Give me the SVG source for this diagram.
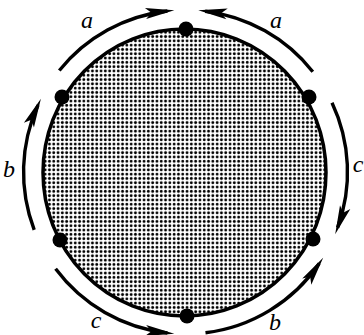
<svg xmlns="http://www.w3.org/2000/svg" width="364" height="335" viewBox="0 0 364 335">
  <defs>
    <pattern id="dots" patternUnits="userSpaceOnUse" width="4.3" height="4.3">
      <circle cx="2.15" cy="2.15" r="1.4" fill="#000"/>
    </pattern>
    <marker id="arr" markerUnits="userSpaceOnUse" orient="auto" markerWidth="40" markerHeight="20" refX="0" refY="0" viewBox="-25 -10 40 20" overflow="visible">
      <path d="M7,0 L-22,-5.5 L-16,0 L-22,5.5 Z" fill="#000"/>
    </marker>
  </defs>
  <style>
    .arc { fill: none; stroke: #000; stroke-width: 3.4; marker-end: url(#arr); }
    .node { fill: #000; }
    .lbl { font-family: "Liberation Serif", "DejaVu Serif", serif; font-style: italic; font-size: 24px; fill: #000; text-anchor: middle; }
  </style>
  <rect width="364" height="335" fill="#fff"/>
  <g id="disk">
    <ellipse cx="184.5" cy="172.5" rx="141.5" ry="143.5" fill="url(#dots)" stroke="#000" stroke-width="3.5"/>
  </g>
  <g id="connectors">
    <path class="arc" d="M59.3,70.5 A162,162 0 0 1 167.4,11"/>
    <path class="arc" d="M312.8,71.8 A162,162 0 0 0 205.2,11.2"/>
    <path class="arc" d="M332,102.8 A162,162 0 0 1 337.6,227.7"/>
    <path class="arc" d="M205.5,332.8 A162,162 0 0 0 319.2,263.5"/>
    <path class="arc" d="M55.6,268.8 A162,162 0 0 0 167.4,333"/>
    <path class="arc" d="M34.2,229.8 A162,162 0 0 1 38,105.1"/>
  </g>
  <g id="n-top"><circle class="node" cx="186" cy="29" r="7.5"/></g>
  <g id="n-upper-left"><circle class="node" cx="62" cy="97" r="7.5"/></g>
  <g id="n-upper-right"><circle class="node" cx="309" cy="97" r="7.5"/></g>
  <g id="n-lower-left"><circle class="node" cx="60" cy="240" r="7.5"/></g>
  <g id="n-lower-right"><circle class="node" cx="313" cy="239" r="7.5"/></g>
  <g id="n-bottom"><circle class="node" cx="187" cy="316" r="7.5"/></g>
  <g id="labels">
    <text class="lbl" x="87" y="28">a</text>
    <text class="lbl" x="276" y="28">a</text>
    <text class="lbl" x="9" y="177">b</text>
    <text class="lbl" x="358" y="172">c</text>
    <text class="lbl" x="96" y="328">c</text>
    <text class="lbl" x="275" y="330">b</text>
  </g>
</svg>
